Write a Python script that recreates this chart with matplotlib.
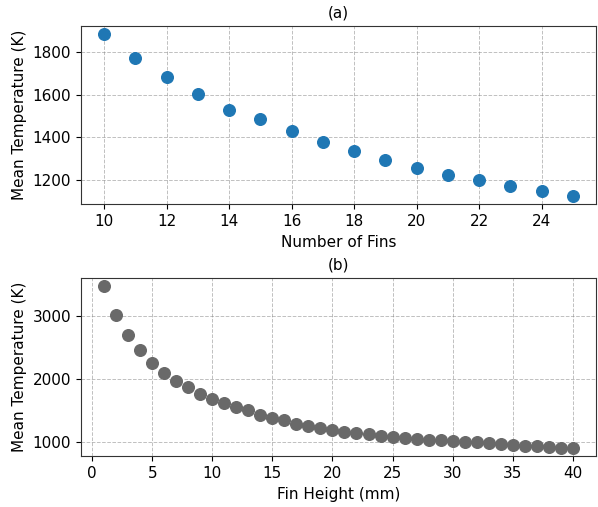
import numpy as np
import matplotlib
matplotlib.use("Agg")
import matplotlib.pyplot as plt

plt.rcParams['font.size'] = 11

# (a) mean temperature vs number of fins
n_fins = list(range(10, 26))
temp_fins = [1882, 1772, 1681, 1601, 1529, 1484, 1430, 1380, 1335, 1297,
             1259, 1226, 1204, 1175, 1149, 1126]

# (b) mean temperature vs fin height
fin_height = list(range(1, 41))
temp_height = [3472, 3010, 2696, 2449, 2252, 2084, 1964, 1864, 1759, 1680,
               1612, 1549, 1502, 1432, 1380, 1343, 1290, 1249, 1217, 1191,
               1164, 1139, 1117, 1096, 1080, 1064, 1048, 1033, 1022, 1011,
               1000, 990, 980, 969, 958, 942, 932, 920, 910, 900]
height_yticks = [1000, 2000, 3000]

fig, (ax1, ax2) = plt.subplots(2, 1, figsize=(5.98, 5.07), dpi=100)
fig.subplots_adjust(left=0.135, right=0.997, top=0.949, bottom=0.10, hspace=0.41)

ax1.scatter(n_fins, temp_fins, color='#1f77b4', s=70, zorder=3)
ax1.set_title('(a)', fontsize=11)
ax1.set_xlabel('Number of Fins')
ax1.set_ylabel('Mean Temperature (K)')

ax2.scatter(fin_height, temp_height, color='dimgray', s=70, zorder=3)
ax2.set_title('(b)', fontsize=11)
ax2.set_xlabel('Fin Height (mm)')
ax2.set_ylabel('Mean Temperature (K)')
ax2.set_yticks(height_yticks)

for ax in (ax1, ax2):
    ax.grid(True, linestyle='--', color='gray', alpha=0.5, linewidth=0.7)
    for sp in ax.spines.values():
        sp.set_color('#333333')

plt.savefig('out.png')
